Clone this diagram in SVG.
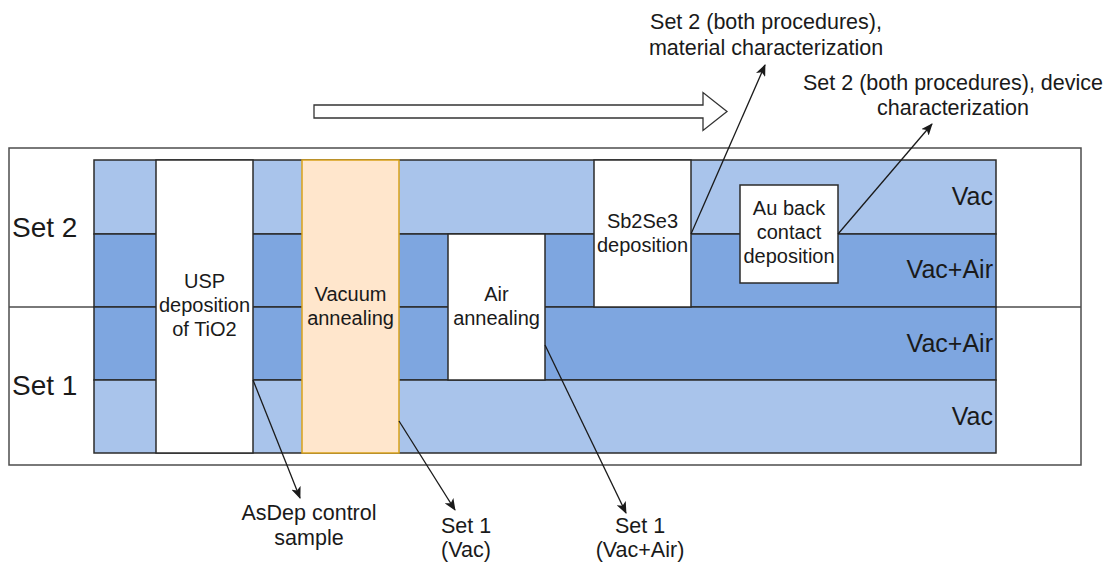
<svg xmlns="http://www.w3.org/2000/svg" width="1109" height="562" viewBox="0 0 1109 562">
  <style>
    text { font-family: "Liberation Sans", Arial, sans-serif; fill: #1a1a1a; }
    .frame { fill: none; stroke: #4d4d4d; stroke-width: 1.5; }
    .light { fill: #A9C4EB; stroke: #2b2b2b; stroke-width: 1.5; }
    .dark { fill: #7EA6E0; stroke: #2b2b2b; stroke-width: 1.5; }
    .step { fill: #ffffff; stroke: #2b2b2b; stroke-width: 1.5; }
    .anneal { fill: #FFE6CC; stroke: #D9A21B; stroke-width: 1.5; }
    .box { font-size: 20px; text-anchor: middle; }
    .set { font-size: 28px; }
    .env { font-size: 25px; text-anchor: end; }
    .note { font-size: 21.5px; text-anchor: middle; }
    .link { fill: none; stroke: #1a1a1a; stroke-width: 1.3; marker-end: url(#head); }
  </style>
  <defs>
    <marker id="head" viewBox="0 0 12 10" refX="11" refY="5" markerWidth="12" markerHeight="10" markerUnits="userSpaceOnUse" orient="auto">
      <path d="M0,0 L12,5 L0,10 L3,5 Z" fill="#1a1a1a"/>
    </marker>
  </defs>

  <rect x="0" y="0" width="1109" height="562" fill="#ffffff"/>

  <!-- outer frame with the Set 2 / Set 1 divider -->
  <g id="frame">
    <rect class="frame" x="9" y="148" width="1072" height="317"/>
    <line class="frame" x1="9" y1="307" x2="1081" y2="307"/>
  </g>

  <!-- process-direction arrow -->
  <g id="direction">
    <path d="M314,105 L703,105 L703,92.5 L727,111.5 L703,130.5 L703,118 L314,118 Z" fill="#ffffff" stroke="#333333" stroke-width="1.3"/>
  </g>

  <!-- atmosphere bands -->
  <g id="bands">
    <rect class="light" x="94" y="160" width="902" height="74"/>
    <rect class="dark" x="94" y="234" width="902" height="73"/>
    <rect class="dark" x="94" y="307" width="902" height="73"/>
    <rect class="light" x="94" y="380" width="902" height="73"/>
  </g>

  <!-- process steps -->
  <g id="usp">
    <rect class="step" x="156" y="160" width="97" height="293"/>
    <text class="box" x="204.5" y="288">USP</text>
    <text class="box" x="204.5" y="312">deposition</text>
    <text class="box" x="204.5" y="336">of TiO2</text>
  </g>
  <g id="vacuum-annealing">
    <rect class="anneal" x="302" y="160" width="97" height="293"/>
    <text class="box" x="350.5" y="301">Vacuum</text>
    <text class="box" x="350.5" y="325">annealing</text>
  </g>
  <g id="air-annealing">
    <rect class="step" x="448" y="234" width="97" height="146"/>
    <text class="box" x="496.5" y="301">Air</text>
    <text class="box" x="496.5" y="325">annealing</text>
  </g>
  <g id="sb2se3">
    <rect class="step" x="594" y="160" width="97" height="147"/>
    <text class="box" x="642.5" y="228">Sb2Se3</text>
    <text class="box" x="642.5" y="252">deposition</text>
  </g>
  <g id="au-contact">
    <rect class="step" x="740" y="185" width="98" height="98"/>
    <text class="box" x="789" y="215">Au back</text>
    <text class="box" x="789" y="239">contact</text>
    <text class="box" x="789" y="263">deposition</text>
  </g>

  <!-- row labels -->
  <g id="labels">
    <text class="set" x="12" y="237">Set 2</text>
    <text class="set" x="12" y="395">Set 1</text>
    <text class="env" x="993" y="205">Vac</text>
    <text class="env" x="993" y="278">Vac+Air</text>
    <text class="env" x="993" y="352">Vac+Air</text>
    <text class="env" x="993" y="425">Vac</text>
  </g>

  <!-- sample annotations -->
  <g id="notes">
    <text class="note" x="766" y="29">Set 2 (both procedures),</text>
    <text class="note" x="766" y="55">material characterization</text>
    <text class="note" x="953" y="90">Set 2 (both procedures), device</text>
    <text class="note" x="953" y="115">characterization</text>
    <text class="note" x="309" y="520">AsDep control</text>
    <text class="note" x="309" y="545">sample</text>
    <text class="note" x="466" y="533">Set 1</text>
    <text class="note" x="466" y="557">(Vac)</text>
    <text class="note" x="640" y="533">Set 1</text>
    <text class="note" x="640" y="557">(Vac+Air)</text>
  </g>

  <!-- connectors -->
  <g id="connectors">
    <line class="link" x1="691" y1="234" x2="765" y2="65"/>
    <line class="link" x1="838" y1="234" x2="932" y2="124"/>
    <line class="link" x1="253" y1="380" x2="300" y2="498"/>
    <line class="link" x1="399" y1="421" x2="455" y2="510"/>
    <line class="link" x1="545" y1="345" x2="626" y2="513"/>
  </g>
</svg>
